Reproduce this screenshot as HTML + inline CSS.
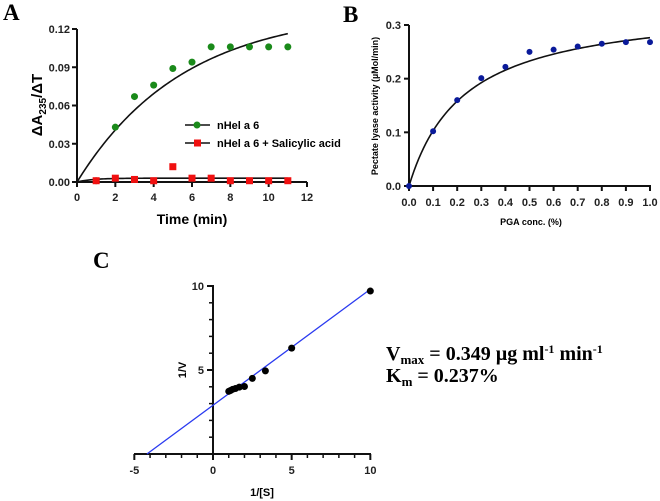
<!DOCTYPE html>
<html><head><meta charset="utf-8"><style>
body{margin:0;background:#fff;}
svg{display:block;font-family:"Liberation Sans",Arial,sans-serif;}
.tk{font-size:11px;font-weight:bold;fill:#222;}
.serif{font-family:"Liberation Serif",serif;font-weight:bold;}
</style></head><body>
<svg id="fig" width="660" height="501" viewBox="0 0 660 501">
<text x="3" y="20" class="serif" font-size="23">A</text>
<text x="343" y="22" class="serif" font-size="23">B</text>
<text x="93" y="268" class="serif" font-size="23" font-weight="normal">C</text>
<g id="A"></g>
<g id="B"></g>
<g id="C"></g>
<text x="386" y="360" class="serif" font-size="20">V<tspan font-size="13" dy="4">max</tspan><tspan dy="-4"> = 0.349 µg ml</tspan><tspan font-size="12" dy="-7">-1</tspan><tspan dy="7"> min</tspan><tspan font-size="12" dy="-7">-1</tspan></text>
<text x="386" y="382" class="serif" font-size="20">K<tspan font-size="13" dy="4">m</tspan><tspan dy="-4"> = 0.237%</tspan></text>
</svg>
<script>
const NS="http://www.w3.org/2000/svg";
function mk(p,t,a){const e=document.createElementNS(NS,t);for(const k in a)e.setAttribute(k,a[k]);p.appendChild(e);return e;}
// Panel A data
const timeA=[1,2,3,4,5,6,7,8,9,10,11];
const helA=[0.001,0.043,0.067,0.076,0.089,0.094,0.106,0.106,0.106,0.106,0.106];
const salA=[0.001,0.003,0.002,0.001,0.012,0.003,0.003,0.001,0.001,0.001,0.001];
const xTicksA=[0,2,4,6,8,10,12];
const yTicksA=[0,0.03,0.06,0.09,0.12];
const yTickLabelsA=["0.00","0.03","0.06","0.09","0.12"];
// Panel B data
const concB=[0,0.1,0.2,0.3,0.4,0.5,0.6,0.7,0.8,0.9,1.0];
const actB=[0,0.102,0.16,0.201,0.222,0.25,0.254,0.26,0.265,0.268,0.268];
const xTicksB=[0,0.1,0.2,0.3,0.4,0.5,0.6,0.7,0.8,0.9,1.0];
const yTicksB=[0,0.1,0.2,0.3];
// Panel C data
const invS=[1,1.11,1.25,1.43,1.67,2,2.5,3.33,5,10];
const invV=[3.73,3.78,3.85,3.9,3.98,4.02,4.5,4.95,6.3,9.7];
const xTicksC=[-5,0,5,10];
const yTicksC=[5,10];

// ---- A
(function(){
const g=document.getElementById('A');
const X=v=>77+v*(230/12), Y=v=>182-v*(153/0.12);
mk(g,'line',{x1:77,y1:29,x2:77,y2:183,stroke:'#111','stroke-width':2});
mk(g,'line',{x1:76,y1:182,x2:307,y2:182,stroke:'#111','stroke-width':2});
xTicksA.forEach(t=>{mk(g,'line',{x1:X(t),y1:182,x2:X(t),y2:187,stroke:'#111','stroke-width':2});
 const tx=mk(g,'text',{x:X(t),y:201,'text-anchor':'middle',class:'tk','font-size':12});tx.textContent=t;
 
 });
yTicksA.forEach((t,i)=>{mk(g,'line',{x1:72,y1:Y(t),x2:77,y2:Y(t),stroke:'#111','stroke-width':2});
 const tx=mk(g,'text',{x:70,y:Y(t)+4,'text-anchor':'end',class:'tk','font-size':12});tx.textContent=yTickLabelsA[i];
 
 });
let t1=mk(g,'text',{x:192,y:224,'text-anchor':'middle','font-size':14,'font-weight':'bold'});t1.textContent='Time (min)';


let yt=mk(g,'text',{transform:'translate(42,105) rotate(-90)','text-anchor':'middle','font-size':15,'font-weight':'bold'});
yt.innerHTML='ΔA<tspan font-size="10" dy="4">235</tspan><tspan dy="-4">/ΔT</tspan>';


let d='',d2='';for(let i=0;i<=110;i++){const t=i/10;d+=(i?'L':'M')+X(t)+','+Y(0.135*(1-Math.exp(-0.18*t)));d2+=(i?'L':'M')+X(t)+','+Y(0.003*(1-Math.exp(-1.2*t)));}
mk(g,'path',{d:d,fill:'none',stroke:'#111','stroke-width':1.6});
mk(g,'path',{d:d2,fill:'none',stroke:'#111','stroke-width':1.6});
timeA.forEach((t,i)=>{const c=mk(g,'circle',{cx:X(t),cy:Y(helA[i]),r:3.5,fill:'#1a8a1a'});
 
 });
timeA.forEach((t,i)=>{const r=mk(g,'rect',{x:X(t)-3.5,y:Y(salA[i])-3.5,width:7,height:7,fill:'#f01010'});
 
 });
mk(g,'line',{x1:185,y1:125,x2:210,y2:125,stroke:'#111','stroke-width':1.5});
mk(g,'circle',{cx:197,cy:125,r:3.5,fill:'#1a8a1a'});
let l1=mk(g,'text',{x:217,y:129,'font-size':11,'font-weight':'bold'});l1.textContent='nHel a 6';


mk(g,'line',{x1:185,y1:143,x2:210,y2:143,stroke:'#111','stroke-width':1.5});
mk(g,'rect',{x:194,y:139.5,width:7,height:7,fill:'#f01010'});
let l2=mk(g,'text',{x:217,y:147,'font-size':11,'font-weight':'bold'});l2.textContent='nHel a 6 + Salicylic acid';


})();
// ---- B
(function(){
const g=document.getElementById('B');
const X=v=>409+v*241, Y=v=>186-v*(161/0.3);
mk(g,'line',{x1:409,y1:25,x2:409,y2:187,stroke:'#111','stroke-width':2});
mk(g,'line',{x1:408,y1:186,x2:651,y2:186,stroke:'#111','stroke-width':2});
xTicksB.forEach(t=>{mk(g,'line',{x1:X(t),y1:186,x2:X(t),y2:191,stroke:'#111','stroke-width':2});
 const tx=mk(g,'text',{x:X(t),y:206,'text-anchor':'middle',class:'tk','font-size':12});tx.textContent=t.toFixed(1);
 
 });
yTicksB.forEach(t=>{mk(g,'line',{x1:404,y1:Y(t),x2:409,y2:Y(t),stroke:'#111','stroke-width':2});
 const tx=mk(g,'text',{x:401,y:Y(t)+4,'text-anchor':'end',class:'tk','font-size':12});tx.textContent=t.toFixed(1);
 
 });
let t1=mk(g,'text',{x:531,y:225,'text-anchor':'middle','font-size':9,'font-weight':'bold'});t1.textContent='PGA conc. (%)';


let yt=mk(g,'text',{transform:'translate(378,106) rotate(-90)','text-anchor':'middle','font-size':9,'font-weight':'bold'});yt.textContent='Pectate lyase activity (µMol/min)';


let d='';for(let i=0;i<=100;i++){const c=i/100;d+=(i?'L':'M')+X(c)+','+Y(0.34*c/(0.23+c));}
mk(g,'path',{d:d,fill:'none',stroke:'#111','stroke-width':1.6});
concB.forEach((c,i)=>{const p=mk(g,'circle',{cx:X(c),cy:Y(actB[i]),r:3,fill:'#0a1a9a'});
 
 });
})();
// ---- C
(function(){
const g=document.getElementById('C');
const X=v=>213+v*(236/15), Y=v=>454-v*16.8;
mk(g,'line',{x1:213,y1:285,x2:213,y2:455,stroke:'#111','stroke-width':2});
mk(g,'line',{x1:134,y1:454,x2:371,y2:454,stroke:'#111','stroke-width':2});
for(let t=-5;t<=10;t++){const big=t%5===0;mk(g,'line',{x1:X(t),y1:454,x2:X(t),y2:big?460:458,stroke:'#111','stroke-width':big?2:1.5});}
for(let t=1;t<=10;t++){const big=t%5===0;mk(g,'line',{x1:big?207:209,y1:Y(t),x2:213,y2:Y(t),stroke:'#111','stroke-width':big?2:1.5});}
xTicksC.forEach(t=>{const tx=mk(g,'text',{x:X(t),y:474,'text-anchor':'middle',class:'tk','font-size':12});tx.textContent=t;
 
 });
yTicksC.forEach(t=>{const tx=mk(g,'text',{x:204,y:Y(t)+4,'text-anchor':'end',class:'tk','font-size':12});tx.textContent=t;
 
 });
let t1=mk(g,'text',{x:262,y:496,'text-anchor':'middle','font-size':11,'font-weight':'bold'});t1.textContent='1/[S]';


let yt=mk(g,'text',{transform:'translate(186,370) rotate(-90)','text-anchor':'middle','font-size':11,'font-weight':'bold'});yt.textContent='1/V';


const b=2.9,m=2.9/4.2;
mk(g,'line',{x1:X(-b/m),y1:Y(0),x2:X(10),y2:Y(b+m*10),stroke:'#2a3af0','stroke-width':1.3});
invS.forEach((s,i)=>{const p=mk(g,'circle',{cx:X(s),cy:Y(invV[i]),r:3.5,fill:'#000'});
 
 });
})();
</script>
</body></html>
